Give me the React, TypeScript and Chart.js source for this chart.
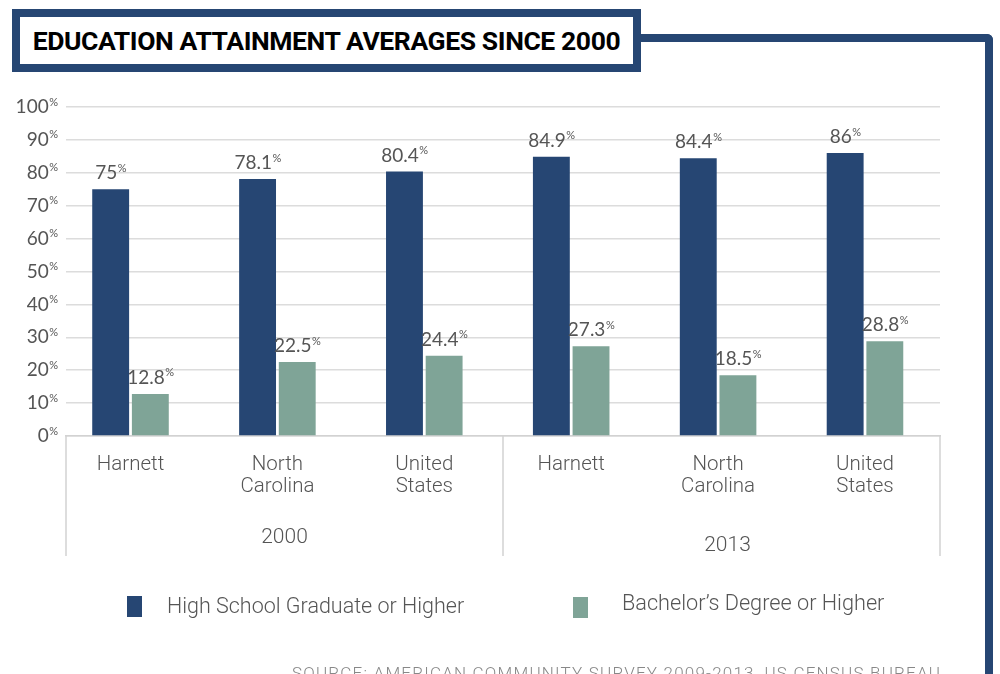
import React, { useEffect, useRef } from "react";
import { Chart, registerables } from "chart.js";

Chart.register(...registerables);

// ---- data ----
const titleText = "EDUCATION ATTAINMENT AVERAGES SINCE 2000";
const sourceText = "SOURCE: AMERICAN COMMUNITY SURVEY 2009-2013, US CENSUS BUREAU";
const categoryLabels: string[][] = [
  ["Harnett"],
  ["North", "Carolina"],
  ["United", "States"],
  ["Harnett"],
  ["North", "Carolina"],
  ["United", "States"],
];
const categoryIndex = [0, 1, 2, 3, 4, 5];
const yearGroups = ["2000", "2013"];
const seriesNames = ["High School Graduate or Higher", "Bachelor’s Degree or Higher"];
const highSchool = [75, 78.1, 80.4, 84.9, 84.4, 86];
const bachelor = [12.8, 22.5, 24.4, 27.3, 18.5, 28.8];

const NAVY = "#264673";
const GREEN = "#7fa497";
const TEXT = "#555555";
const GRID = "#dcdcdc";
const NUM_FONT = "Lato";
const LABEL_FONT = "Roboto";

const annotate = {
  id: "annotate",
  afterDraw(chart: any) {
    const ctx = chart.ctx as CanvasRenderingContext2D;
    const { left, right, bottom } = chart.chartArea;
    const yScale = chart.scales.y;
    ctx.save();
    ctx.fillStyle = TEXT;

    // y tick labels with superscript %
    yScale.ticks.forEach((t: any) => {
      const y = yScale.getPixelForValue(t.value);
      ctx.textBaseline = "middle";
      ctx.textAlign = "right";
      ctx.font = `11px ${NUM_FONT}`;
      const pw = ctx.measureText("%").width;
      ctx.fillText("%", left - 8, y - 5);
      ctx.font = `19px ${NUM_FONT}`;
      ctx.fillText(String(t.value), left - 8 - pw - 0.5, y);
    });

    // value labels
    chart.data.datasets.forEach((ds: any, di: number) => {
      const meta = chart.getDatasetMeta(di);
      meta.data.forEach((el: any, i: number) => {
        const num = String(ds.data[i].y);
        ctx.font = `19px ${NUM_FONT}`;
        const nw = ctx.measureText(num).width;
        ctx.font = `11px ${NUM_FONT}`;
        const pw = ctx.measureText("%").width;
        const x0 = el.x - (nw + pw) / 2;
        const yc = el.y - 16;
        ctx.textAlign = "left";
        ctx.textBaseline = "middle";
        ctx.font = `19px ${NUM_FONT}`;
        ctx.fillText(num, x0, yc);
        ctx.font = `11px ${NUM_FONT}`;
        ctx.fillText("%", x0 + nw + 0.5, yc - 5);
      });
    });

    // group dividers and year labels
    const mid = (left + right) / 2;
    ctx.strokeStyle = "#d2d2d2";
    ctx.lineWidth = 1.5;
    [left, mid, right].forEach((x) => {
      ctx.beginPath();
      ctx.moveTo(x, bottom);
      ctx.lineTo(x, bottom + 120);
      ctx.stroke();
    });
    ctx.textAlign = "center";
    ctx.textBaseline = "middle";
    ctx.font = `300 21px ${LABEL_FONT}`;
    ctx.fillText(yearGroups[0], (left + mid) / 2, bottom + 102);
    ctx.fillText(yearGroups[1], (mid + right) / 2 + 6, bottom + 110);
    ctx.restore();
  },
};

function ChartCanvas() {
  const ref = useRef<HTMLCanvasElement | null>(null);
  useEffect(() => {
    if (!ref.current) return;
    const chart = new Chart(ref.current, {
      type: "bar",
      data: {
        datasets: [
          {
            label: seriesNames[0],
            data: categoryIndex.map((i) => ({ x: i, y: highSchool[i] })),
            backgroundColor: NAVY,
            categoryPercentage: 0.54,
            barPercentage: 0.93,
          },
          {
            label: seriesNames[1],
            data: categoryIndex.map((i) => ({ x: i, y: bachelor[i] })),
            backgroundColor: GREEN,
            categoryPercentage: 0.54,
            barPercentage: 0.93,
          },
        ],
      } as any,
      options: {
        responsive: false,
        animation: false,
        devicePixelRatio: 1,
        layout: { padding: { left: 66, right: 60, top: 107, bottom: 158 } },
        plugins: { legend: { display: false }, tooltip: { enabled: false } },
        scales: {
          x: {
            type: "linear",
            min: -0.4391,
            max: 5.5106,
            bounds: "data",
            offset: false,
            afterBuildTicks: (scale: any) => {
              scale.ticks = categoryIndex.map((v) => ({ value: v }));
            },
            grid: { display: false, drawTicks: false },
            border: { display: true, color: "#d2d2d2", width: 1.5 },
            ticks: {
              autoSkip: false,
              maxRotation: 0,
              minRotation: 0,
              padding: 18,
              color: TEXT,
              font: { family: LABEL_FONT, size: 20.5, weight: "300", lineHeight: "22px" },
              callback: (v: any) => categoryLabels[Math.round(Number(v))] ?? "",
            },
          },
          y: {
            min: 0,
            max: 100,
            ticks: { display: false, stepSize: 10 },
            grid: { color: GRID, lineWidth: 1.5, drawTicks: false },
            border: { display: false },
          },
        },
      } as any,
      plugins: [annotate],
    });
    return () => chart.destroy();
  }, []);
  return (
    <canvas
      ref={ref}
      width={1000}
      height={674}
      style={{ position: "absolute", left: 0, top: 0, width: 1000, height: 674 }}
    />
  );
}

export default function App() {
  return (
    <div
      style={{
        position: "absolute",
        left: 0,
        top: 0,
        width: 1000,
        height: 674,
        overflow: "hidden",
        background: "#fff",
        fontFamily: LABEL_FONT,
      }}
    >
      <ChartCanvas />
      {/* connector frame */}
      <div
        style={{
          position: "absolute",
          left: 636,
          top: 34,
          width: 357,
          height: 700,
          boxSizing: "border-box",
          borderTop: `8px solid ${NAVY}`,
          borderRight: `8px solid ${NAVY}`,
          borderTopRightRadius: 6,
        }}
      />
      {/* title box */}
      <div
        style={{
          position: "absolute",
          left: 12,
          top: 9,
          width: 629,
          height: 63,
          boxSizing: "border-box",
          border: `8px solid ${NAVY}`,
          background: "#fff",
          display: "flex",
          alignItems: "center",
          justifyContent: "center",
        }}
      >
        <span
          style={{
            fontFamily: "Roboto",
            fontWeight: 700,
            fontSize: 26.5,
            letterSpacing: -0.4,
            color: "#000",
            whiteSpace: "nowrap",
          }}
        >
          {titleText}
        </span>
      </div>
      {/* legend */}
      <div style={{ position: "absolute", left: 127, top: 596, width: 15, height: 21, background: NAVY }} />
      <div
        style={{
          position: "absolute",
          left: 167,
          top: 594,
          fontSize: 21.5,
          lineHeight: "24px",
          fontWeight: 300,
          color: TEXT,
          whiteSpace: "nowrap",
        }}
      >
        {seriesNames[0]}
      </div>
      <div style={{ position: "absolute", left: 573, top: 597, width: 15, height: 21, background: GREEN }} />
      <div
        style={{
          position: "absolute",
          left: 622,
          top: 591,
          fontSize: 21.7,
          lineHeight: "24px",
          fontWeight: 300,
          color: TEXT,
          whiteSpace: "nowrap",
        }}
      >
        {seriesNames[1]}
      </div>
      {/* source */}
      <div
        style={{
          position: "absolute",
          left: 292,
          top: 663,
          fontSize: 17,
          lineHeight: "20px",
          fontWeight: 300,
          letterSpacing: 1.2,
          color: "#888",
          whiteSpace: "nowrap",
        }}
      >
        {sourceText}
      </div>
    </div>
  );
}
